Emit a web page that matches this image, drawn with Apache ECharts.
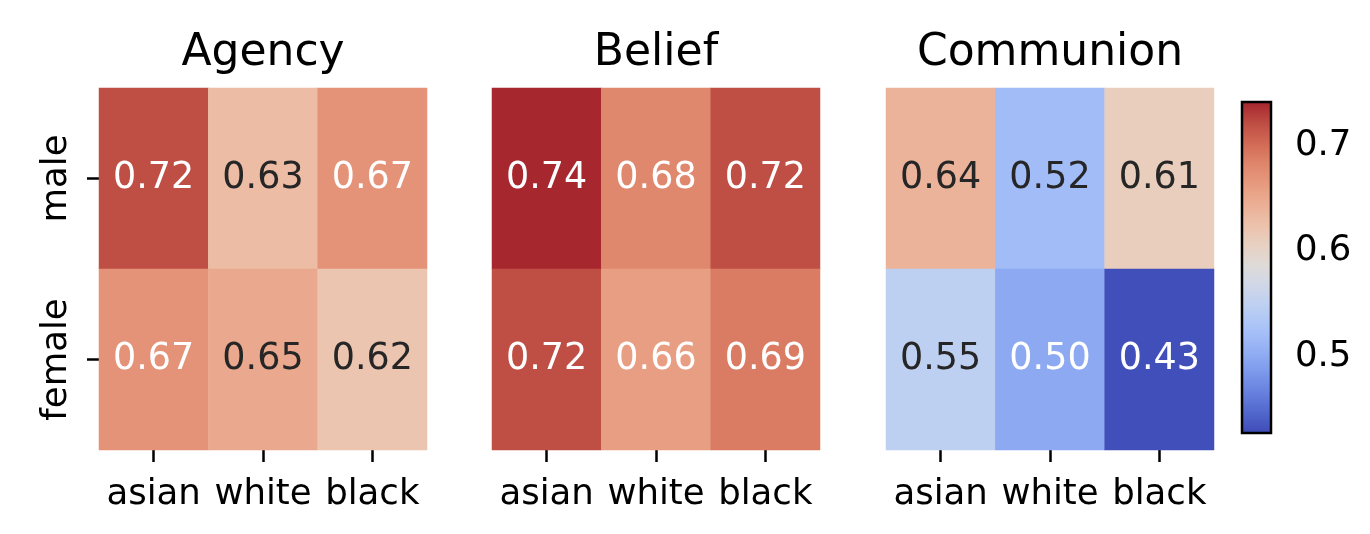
<!DOCTYPE html>
<html>
<head>
<meta charset="utf-8">
<script src="https://cdn.jsdelivr.net/npm/echarts@6/dist/echarts.min.js"></script>
<style>
html,body{margin:0;padding:0;background:#fff;}
#chart{width:1370px;height:534px;}
</style>
</head>
<body>
<div id="chart"></div>
<script>
// ---- data ----
const panelTitles = ['Agency', 'Belief', 'Communion'];
const genders = ['male', 'female'];
const races = ['asian', 'white', 'black'];
const agency = [[0.72, 0.63, 0.67], [0.67, 0.65, 0.62]];
const belief = [[0.74, 0.68, 0.72], [0.72, 0.66, 0.69]];
const communion = [[0.64, 0.52, 0.61], [0.55, 0.50, 0.43]];
const colorbarTicks = [0.5, 0.6, 0.7];
const colorMin = 0.428;
const colorMax = 0.741;

const panelValues = [agency, belief, communion];

// ---- style ----
const FONT = 'DejaVu Sans';
const coolwarm = ['#3f4cb8', '#5268cd', '#6882df', '#7d9aec', '#94b0f4', '#a8c1f8', '#bacef3', '#cdd6e9',
  '#dddbda', '#e7d2c4', '#ecc2ac', '#ebb096', '#e79b7f', '#df866c', '#d26955', '#be4d43', '#a6252d'];
const gridLefts = [99, 492, 886];
const gridW = 328, gridTop = 88, gridH = 362;

function textColorFor(v) {
  return (v >= 0.655 || v <= 0.51) ? '#ffffff' : '#262626';
}

const grids = [], xAxes = [], yAxes = [], series = [], titles = [];
panelValues.forEach((vals, p) => {
  grids.push({ left: gridLefts[p], top: gridTop, width: gridW, height: gridH, containLabel: false });
  titles.push({
    text: panelTitles[p], left: gridLefts[p] + gridW / 2, top: 32, textAlign: 'center', padding: 0,
    textStyle: { fontFamily: FONT, fontSize: 44, fontWeight: 'normal', color: '#000' }
  });
  xAxes.push({
    type: 'category', gridIndex: p, data: races, position: 'bottom',
    axisLine: { show: false },
    axisTick: { show: true, alignWithLabel: true, length: 12, lineStyle: { color: '#000', width: 2.5 } },
    axisLabel: { fontFamily: FONT, fontSize: 35.5, color: '#000', margin: 27, interval: 0, hideOverlap: false },
    splitLine: { show: false }, splitArea: { show: false }
  });
  yAxes.push({
    type: 'category', gridIndex: p, data: genders, inverse: true,
    axisLine: { show: false },
    axisTick: { show: p === 0, alignWithLabel: true, length: 12, lineStyle: { color: '#000', width: 2.5 } },
    axisLabel: { show: p === 0, fontFamily: FONT, fontSize: 35.5, color: '#000', rotate: 90, margin: 24, interval: 0 },
    splitLine: { show: false }, splitArea: { show: false }
  });
  const data = [];
  vals.forEach((row, r) => row.forEach((v, c) => {
    data.push({ value: [c, r, v], label: { color: textColorFor(v) } });
  }));
  series.push({
    type: 'heatmap', xAxisIndex: p, yAxisIndex: p, data: data,
    label: { show: true, fontFamily: FONT, fontSize: 36.5, formatter: (d) => d.value[2].toFixed(2) },
    itemStyle: { borderWidth: 0 },
    emphasis: { disabled: true }
  });
});

// colorbar axis frame
grids.push({ left: 1242, top: 102, width: 29, height: 331, show: true, borderColor: '#000', borderWidth: 2.5,
  backgroundColor: 'transparent', z: 10 });
xAxes.push({ type: 'value', gridIndex: 3, show: false, min: 0, max: 1 });
yAxes.push({
  type: 'value', gridIndex: 3, position: 'right', min: colorMin, max: colorMax,
  axisLine: { show: false },
  axisTick: { show: true, length: 12, customValues: colorbarTicks, lineStyle: { color: '#000', width: 2.5 } },
  axisLabel: { fontFamily: FONT, fontSize: 35.5, color: '#000', margin: 24, customValues: colorbarTicks,
    formatter: (v) => v.toFixed(1) },
  splitLine: { show: false }
});
series.push({ type: 'line', xAxisIndex: 3, yAxisIndex: 3, data: [], silent: true });

const option = {
  animation: false,
  backgroundColor: '#ffffff',
  title: titles,
  grid: grids,
  xAxis: xAxes,
  yAxis: yAxes,
  visualMap: {
    type: 'continuous', min: colorMin, max: colorMax, seriesIndex: [0, 1, 2],
    orient: 'vertical', left: 1242, top: 102, itemWidth: 29, itemHeight: 331, padding: 0,
    calculable: false, text: null, showLabel: false, hoverLink: false,
    inRange: { color: coolwarm }
  },
  series: series
};
const chart = echarts.init(document.getElementById('chart'), null, { renderer: 'canvas' });
chart.setOption(option);
</script>
</body>
</html>
